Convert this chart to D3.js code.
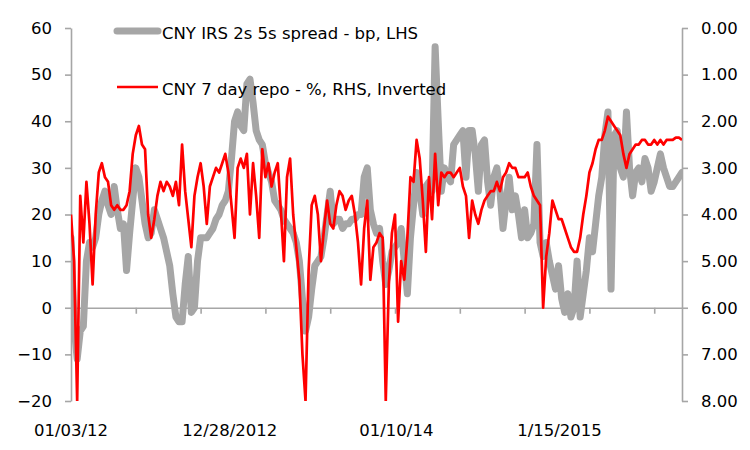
<!DOCTYPE html>
<html>
<head>
<meta charset="utf-8">
<script src="https://cdn.jsdelivr.net/npm/d3@7"></script>
<style>
  body { margin: 0; background: #fff; }
  text { font-family: "DejaVu Sans", sans-serif; fill: #000; }
</style>
</head>
<body>
<script>
// weekly observations (Tuesdays), Jan 2012 to Oct 2015
const startDate = "2012-01-03";
const endDate = "2015-10-20";

// CNY IRS 2s 5s spread, bp (LHS)
const spread = [
  15, -4, -11, -5, -4, 10, 14, 13, 15, 20,
  23, 25, 22, 20, 26, 21, 17, 18, 8, 16,
  23, 30, 28, 23, 18, 15, 16, 21, 19, 17,
  15, 12, 9, 3, -2, -3, -3, 5, 11, -1,
  0, 10, 15, 15, 15, 16, 17, 19, 20, 22,
  23, 25, 32, 40, 42, 39, 38, 48, 49, 44,
  38, 36, 35, 31, 29, 27, 23, 22, 21, 19,
  18, 17, 16, 14, 10, 2, -5, -2, 4, 9,
  10, 11, 15, 20, 25, 18, 19, 19, 17, 18,
  18, 19, 19, 20, 20, 28, 30, 21, 18, 16,
  17, 10, 5, 8, 12, 13, 14, 17, 10, 3,
  15, 22, 29, 25, 20, 26, 27, 25, 56, 40,
  25, 30, 28, 27, 35, 36, 37, 38, 28, 38,
  38, 33, 25, 35, 36, 27, 22, 28, 30, 25,
  17, 23, 28, 21, 24, 20, 15, 21, 15, 16,
  18, 35, 14, 11, 14, 10, 7, 4, 9, 2,
  -1, 3, -2, 0, 10, -2, 3, 8, 15, 12,
  18, 24, 28, 37, 42, 4, 37, 38, 30, 28,
  42, 30, 24, 29, 30, 27, 32, 30, 25, 27,
  30, 33, 30, 28, 26, 26, 27, 28, 29
];

// CNY 7 day repo, % (RHS, inverted)
const repo = [
  4.00, 5.00, 8.00, 3.60, 4.60, 3.30, 4.20, 5.50, 4.00, 3.10,
  2.90, 3.20, 3.30, 3.80, 3.90, 3.80, 3.90, 3.90, 3.80, 3.50,
  2.70, 2.30, 2.10, 2.50, 2.60, 4.00, 4.50, 4.10, 3.60, 3.30,
  3.50, 3.30, 3.40, 3.60, 3.30, 3.80, 2.50, 3.50, 4.10, 4.70,
  3.60, 3.20, 2.90, 3.40, 4.20, 3.40, 3.20, 3.00, 3.10, 2.90,
  2.70, 3.10, 3.80, 4.50, 3.00, 2.80, 3.00, 2.70, 4.00, 2.90,
  3.60, 4.50, 2.60, 3.20, 2.90, 3.40, 3.10, 2.90, 3.90, 5.00,
  3.20, 2.80, 4.00, 4.70, 5.40, 7.00, 8.00, 5.20, 3.80, 3.60,
  4.00, 5.00, 4.30, 3.70, 4.20, 4.30, 3.80, 3.50, 3.60, 3.90,
  3.70, 3.60, 4.00, 4.60, 5.50, 4.30, 3.70, 5.40, 4.70, 4.60,
  4.40, 4.50, 8.00, 5.50, 4.40, 4.00, 6.30, 5.00, 5.40, 4.50,
  3.20, 3.30, 2.40, 2.80, 3.70, 4.80, 3.20, 4.10, 2.70, 3.80,
  3.10, 3.20, 3.10, 3.10, 3.20, 3.10, 3.00, 3.40, 3.60, 4.50,
  3.70, 4.00, 4.20, 3.90, 3.70, 3.60, 3.50, 3.50, 3.30, 3.50,
  3.20, 3.10, 2.90, 3.00, 3.00, 3.20, 3.20, 3.20, 3.10, 3.40,
  3.60, 3.70, 3.80, 6.00, 4.90, 4.40, 3.70, 3.90, 4.10, 4.10,
  4.30, 4.50, 4.70, 4.80, 4.80, 4.50, 4.00, 3.60, 3.10, 2.90,
  2.60, 2.40, 2.40, 2.20, 1.90, 2.00, 2.10, 2.20, 2.30, 2.70,
  3.00, 2.70, 2.60, 2.50, 2.50, 2.40, 2.40, 2.50, 2.50, 2.40,
  2.50, 2.40, 2.50, 2.40, 2.40, 2.40, 2.35, 2.35, 2.40
];

const leftTicks = [60, 50, 40, 30, 20, 10, 0, -10, -20];
const rightTicks = [0, 1, 2, 3, 4, 5, 6, 7, 8];
const dateLabels = ["01/03/12", "12/28/2012", "01/10/14", "1/15/2015"];
const dateLabelDates = ["2012-01-03", "2012-12-28", "2014-01-10", "2015-01-15"];
const seriesNames = ["CNY IRS 2s 5s spread - bp, LHS", "CNY 7 day repo - %, RHS, Inverted"];

const width = 750, height = 450;
const margin = { top: 28, right: 68, bottom: 49, left: 71 };
const axisColor = "#a6a6a6";
const fontSize = 16.5;

const parse = d3.utcParse("%Y-%m-%d");
const t0 = parse(startDate), t1 = parse(endDate);
const dates = d3.utcTuesday.range(t0, d3.utcDay.offset(t1, 1));

const svg = d3.select("body").append("svg")
    .attr("width", width)
    .attr("height", height);

const x = d3.scaleUtc()
    .domain([t0, t1])
    .range([margin.left, width - margin.right]);

const yL = d3.scaleLinear()
    .domain([-20, 60])
    .range([height - margin.bottom, margin.top]);

const yR = d3.scaleLinear()
    .domain([0, 8])
    .range([margin.top, height - margin.bottom]);

// x axis sits on the zero line, tick every 21 weeks
const tickDates = d3.range(1, 10).map(k => d3.utcDay.offset(t0, 147 * k));

const xAxis = svg.append("g")
    .attr("transform", `translate(0,${yL(0)})`)
    .call(d3.axisBottom(x).tickValues(tickDates).tickSize(6).tickSizeOuter(0).tickFormat(""));

const lAxis = svg.append("g")
    .attr("transform", `translate(${margin.left},0)`)
    .call(d3.axisLeft(yL).tickValues(leftTicks).tickSize(6).tickSizeOuter(0).tickPadding(13));

const rAxis = svg.append("g")
    .attr("transform", `translate(${width - margin.right},0)`)
    .call(d3.axisRight(yR).tickValues(rightTicks).tickSize(6).tickSizeOuter(0).tickPadding(13)
        .tickFormat(d3.format(".2f")));

[xAxis, lAxis, rAxis].forEach(g => {
    g.select(".domain").attr("stroke", axisColor).attr("stroke-width", 1.6);
    g.selectAll(".tick line").attr("stroke", axisColor).attr("stroke-width", 1.6);
    g.selectAll(".tick text")
        .attr("font-family", "DejaVu Sans, sans-serif")
        .attr("font-size", fontSize)
        .attr("fill", "#000");
});

// date labels along the bottom
svg.append("g")
    .selectAll("text")
    .data(dateLabels)
    .join("text")
    .attr("x", (d, i) => x(parse(dateLabelDates[i])))
    .attr("y", 430)
    .attr("text-anchor", "middle")
    .attr("dominant-baseline", "central")
    .attr("font-size", fontSize)
    .text(d => d);

svg.append("clipPath").attr("id", "plot")
    .append("rect")
    .attr("x", margin.left)
    .attr("y", margin.top - 10)
    .attr("width", width - margin.left - margin.right)
    .attr("height", yL(-20) - margin.top + 10);

const plot = svg.append("g").attr("clip-path", "url(#plot)");

const spreadLine = d3.line()
    .x((d, i) => x(dates[i]))
    .y(d => yL(d));

const repoLine = d3.line()
    .x((d, i) => x(dates[i]))
    .y(d => yR(d));

plot.append("path")
    .datum(spread)
    .attr("d", spreadLine)
    .attr("fill", "none")
    .attr("stroke", "#a6a6a6")
    .attr("stroke-width", 7)
    .attr("stroke-linejoin", "round")
    .attr("stroke-linecap", "round");

plot.append("path")
    .datum(repo)
    .attr("d", repoLine)
    .attr("fill", "none")
    .attr("stroke", "#ff0000")
    .attr("stroke-width", 2.7)
    .attr("stroke-linejoin", "round");

// legend
const legend = svg.append("g");
const legendStyles = [
    { color: "#a6a6a6", w: 7, cap: "round", y: 31 },
    { color: "#ff0000", w: 2.7, cap: "butt", y: 87 }
];
legend.selectAll("line")
    .data(legendStyles)
    .join("line")
    .attr("x1", 117).attr("x2", 158)
    .attr("y1", d => d.y).attr("y2", d => d.y)
    .attr("stroke", d => d.color)
    .attr("stroke-width", d => d.w)
    .attr("stroke-linecap", d => d.cap);
legend.selectAll("text")
    .data(seriesNames)
    .join("text")
    .attr("x", 162)
    .attr("y", (d, i) => legendStyles[i].y + 2)
    .attr("dominant-baseline", "central")
    .attr("font-size", fontSize)
    .text(d => d);
</script>
</body>
</html>
